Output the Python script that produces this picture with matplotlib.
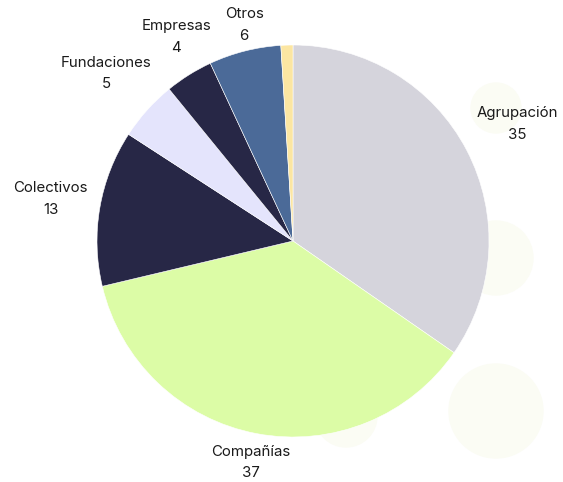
import matplotlib
matplotlib.use("Agg")
import matplotlib.pyplot as plt
import numpy as np
from matplotlib.patches import Circle

# slice data, clockwise from 12 o'clock
labels = ["Agrupación", "Compañías", "Colectivos", "Fundaciones", "Empresas", "Otros", ""]
values = [35, 37, 13, 5, 4, 6, 1]
colors = ["#d5d4dc", "#dcfca6", "#272746", "#e4e4fc", "#272746", "#4b6a98", "#fce6a2"]
# label placement: distance from centre (pie radii) and angle nudge (deg)
label_r = [1.29, 1.15, 1.255, 1.28, 1.20, 1.13, 1.2]
label_da = [0, 0, 0, 0, -2.3, -1.5, 0]

W, H = 563, 482
fig = plt.figure(figsize=(W / 100, H / 100), dpi=100)
ax = fig.add_axes([0, 0, 1, 1])

# faint decorative bubbles behind the pie
for (bx, by, r) in [(496, 374, 25), (496, 224, 37), (496, 71, 47), (346, 66, 31)]:
    ax.add_patch(Circle((bx, by), r, color="#fbfcf4", zorder=0))

cx, cy, R = 293, 241, 196
wedges, _ = ax.pie(values, colors=colors, startangle=90, counterclock=False,
                   center=(cx, cy), radius=R, frame=True,
                   wedgeprops=dict(linewidth=0.4, edgecolor="white"))
ax.set_xlim(0, W)
ax.set_ylim(0, H)
ax.set_aspect("equal")
ax.axis("off")

for w, lab, v, lr, da in zip(wedges, labels, values, label_r, label_da):
    if not lab:
        continue
    mid = np.deg2rad((w.theta1 + w.theta2) / 2 + da)
    x = cx + lr * R * np.cos(mid)
    y = cy + lr * R * np.sin(mid)
    ax.text(x, y, f"{lab}\n{v}", ha="center", va="center", fontsize=10.8,
            family="Inter", color="#1a1a1a", linespacing=1.7)

fig.savefig("out.png", dpi=100, facecolor="white")
